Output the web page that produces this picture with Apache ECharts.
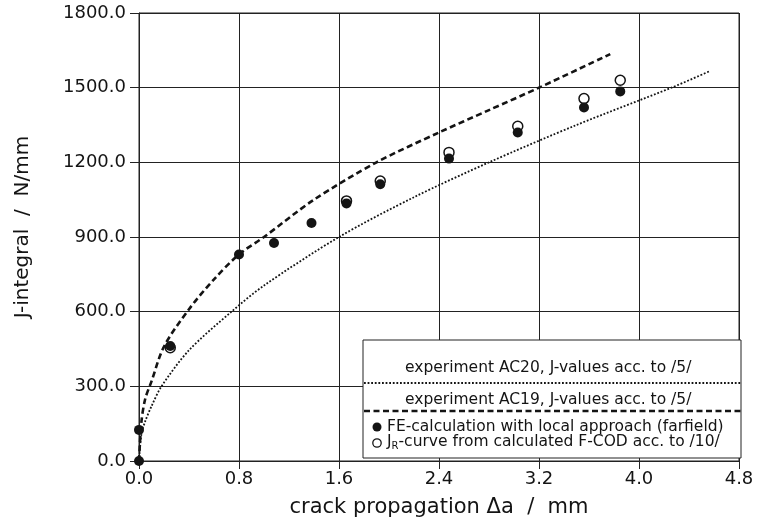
<!DOCTYPE html>
<html>
<head>
<meta charset="utf-8">
<script src="https://cdn.jsdelivr.net/npm/echarts@6/dist/echarts.min.js"></script>
<style>
html,body{margin:0;padding:0;background:#fff;}
#chart{width:765px;height:526px;}
</style>
</head>
<body>
<div id="chart"></div>
<script>
// ---- data ----
var xTicks = [0.0, 0.8, 1.6, 2.4, 3.2, 4.0, 4.8];
var yTicks = [0, 300, 600, 900, 1200, 1500, 1800];

// experiment AC20 (dotted)
var ac20X = [0, 0.02, 0.05, 0.1, 0.18, 0.4, 0.74, 1.0, 1.6, 2.2, 2.8, 3.5, 4.26, 4.56];
var ac20Y = [0, 110, 160, 220, 300, 445, 600, 705, 900, 1060, 1200, 1350, 1500, 1565];

// experiment AC19 (dashed)
var ac19X = [0, 0.02, 0.05, 0.1, 0.2, 0.4, 0.6, 0.8, 1.0, 1.4, 1.9, 2.4, 2.8, 3.2, 3.77];
var ac19Y = [0, 160, 250, 320, 460, 610, 730, 830, 900, 1050, 1200, 1320, 1410, 1500, 1635];

// FE-calculation with local approach (farfield) - filled
var feX = [0, 0, 0.25, 0.8, 1.08, 1.38, 1.66, 1.93, 2.48, 3.03, 3.56, 3.85];
var feY = [0, 125, 462, 830, 876, 956, 1035, 1112, 1215, 1320, 1420, 1485];

// J_R-curve from calculated F-COD - open
var jrX = [0.25, 1.66, 1.93, 2.48, 3.03, 3.56, 3.85];
var jrY = [455, 1045, 1125, 1240, 1345, 1456, 1530];

var legendTexts = [
  'experiment AC20, J-values acc. to /5/',
  'experiment AC19, J-values acc. to /5/',
  'FE-calculation with local approach (farfield)',
  '{j|J}{sub|R}{j|-curve from calculated F-COD acc. to /10/}'
];

function zip(a, b) { return a.map(function (v, i) { return [v, b[i]]; }); }

var FONT = 'DejaVu Sans';
var INK = '#141414';

var chart = echarts.init(document.getElementById('chart'), null, {renderer: 'canvas'});

var option = {
  backgroundColor: '#fff',
  animation: false,
  grid: {left: 139, right: 26, top: 13, bottom: 65, show: true, borderColor: '#222', borderWidth: 1},
  xAxis: {
    type: 'value', min: xTicks[0], max: xTicks[xTicks.length - 1], interval: 0.8,
    name: 'crack propagation \u0394a  /  mm', nameLocation: 'middle', nameGap: 36,
    nameTextStyle: {fontFamily: FONT, fontSize: 21, color: INK},
    axisLine: {show: true, lineStyle: {color: '#222', width: 1}},
    axisTick: {show: true, inside: false, length: 8, lineStyle: {color: '#222'}},
    axisLabel: {fontFamily: FONT, fontSize: 18, color: INK, margin: 9,
      formatter: function (v) { return v.toFixed(1); }},
    splitLine: {show: true, lineStyle: {color: '#222', width: 1}}
  },
  yAxis: {
    type: 'value', min: yTicks[0], max: yTicks[yTicks.length - 1], interval: 300,
    name: 'J-integral  /  N/mm', nameLocation: 'middle', nameGap: 106, nameRotate: 90,
    nameTextStyle: {fontFamily: FONT, fontSize: 20, color: INK, padding: [0, 0, 0, 20]},
    axisLine: {show: true, lineStyle: {color: '#222', width: 1}},
    axisTick: {show: true, inside: false, length: 9, lineStyle: {color: '#222'}},
    axisLabel: {fontFamily: FONT, fontSize: 18, color: INK, margin: 13,
      formatter: function (v) { return v.toFixed(1); }},
    splitLine: {show: true, lineStyle: {color: '#222', width: 1}}
  },
  series: [
    {
      name: 'AC20', type: 'line', data: zip(ac20X, ac20Y), smooth: 0.3, showSymbol: false,
      lineStyle: {color: INK, width: 1.8, type: [1.8, 1.8]}, z: 3
    },
    {
      name: 'AC19', type: 'line', data: zip(ac19X, ac19Y), smooth: 0.3, showSymbol: false,
      lineStyle: {color: INK, width: 2.6, type: [6, 3.5]}, z: 3
    },
    {
      name: 'JR', type: 'scatter', data: zip(jrX, jrY), symbol: 'circle', symbolSize: 10,
      itemStyle: {color: '#fff', borderColor: INK, borderWidth: 1.5, opacity: 1}, z: 4
    },
    {
      name: 'FE', type: 'scatter', data: zip(feX, feY), symbol: 'circle', symbolSize: 10,
      itemStyle: {color: INK, opacity: 1}, z: 5
    }
  ],
  graphic: [
    {type: 'rect', shape: {x: 363, y: 340, width: 378, height: 118},
      style: {fill: '#fff', stroke: '#222', lineWidth: 1}, z: 10},
    {type: 'text', left: 405, top: 360, z: 11,
      style: {text: legendTexts[0], font: '15.5px "DejaVu Sans"', fill: INK}},
    {type: 'line', shape: {x1: 364, y1: 383, x2: 741, y2: 383}, z: 11,
      style: {stroke: INK, lineWidth: 1.8, lineDash: [1.8, 1.8]}},
    {type: 'text', left: 405, top: 392, z: 11,
      style: {text: legendTexts[1], font: '15.5px "DejaVu Sans"', fill: INK}},
    {type: 'line', shape: {x1: 364, y1: 411, x2: 741, y2: 411}, z: 11,
      style: {stroke: INK, lineWidth: 2.6, lineDash: [6, 3.5]}},
    {type: 'circle', shape: {cx: 377, cy: 427, r: 4.5}, z: 11, style: {fill: INK}},
    {type: 'text', left: 387, top: 419, z: 11,
      style: {text: legendTexts[2], font: '15.5px "DejaVu Sans"', fill: INK}},
    {type: 'circle', shape: {cx: 377, cy: 443, r: 4.2}, z: 11,
      style: {fill: '#fff', stroke: INK, lineWidth: 1.3}},
    {type: 'text', left: 387, top: 434, z: 11,
      style: {text: legendTexts[3], fill: INK,
        rich: {
          j: {fontFamily: FONT, fontSize: 15.5, fill: INK},
          sub: {fontFamily: FONT, fontSize: 10, fill: INK, verticalAlign: 'bottom', padding: [8, 0, 0, 0]}
        }}}
  ]
};
chart.setOption(option);
</script>
</body>
</html>
